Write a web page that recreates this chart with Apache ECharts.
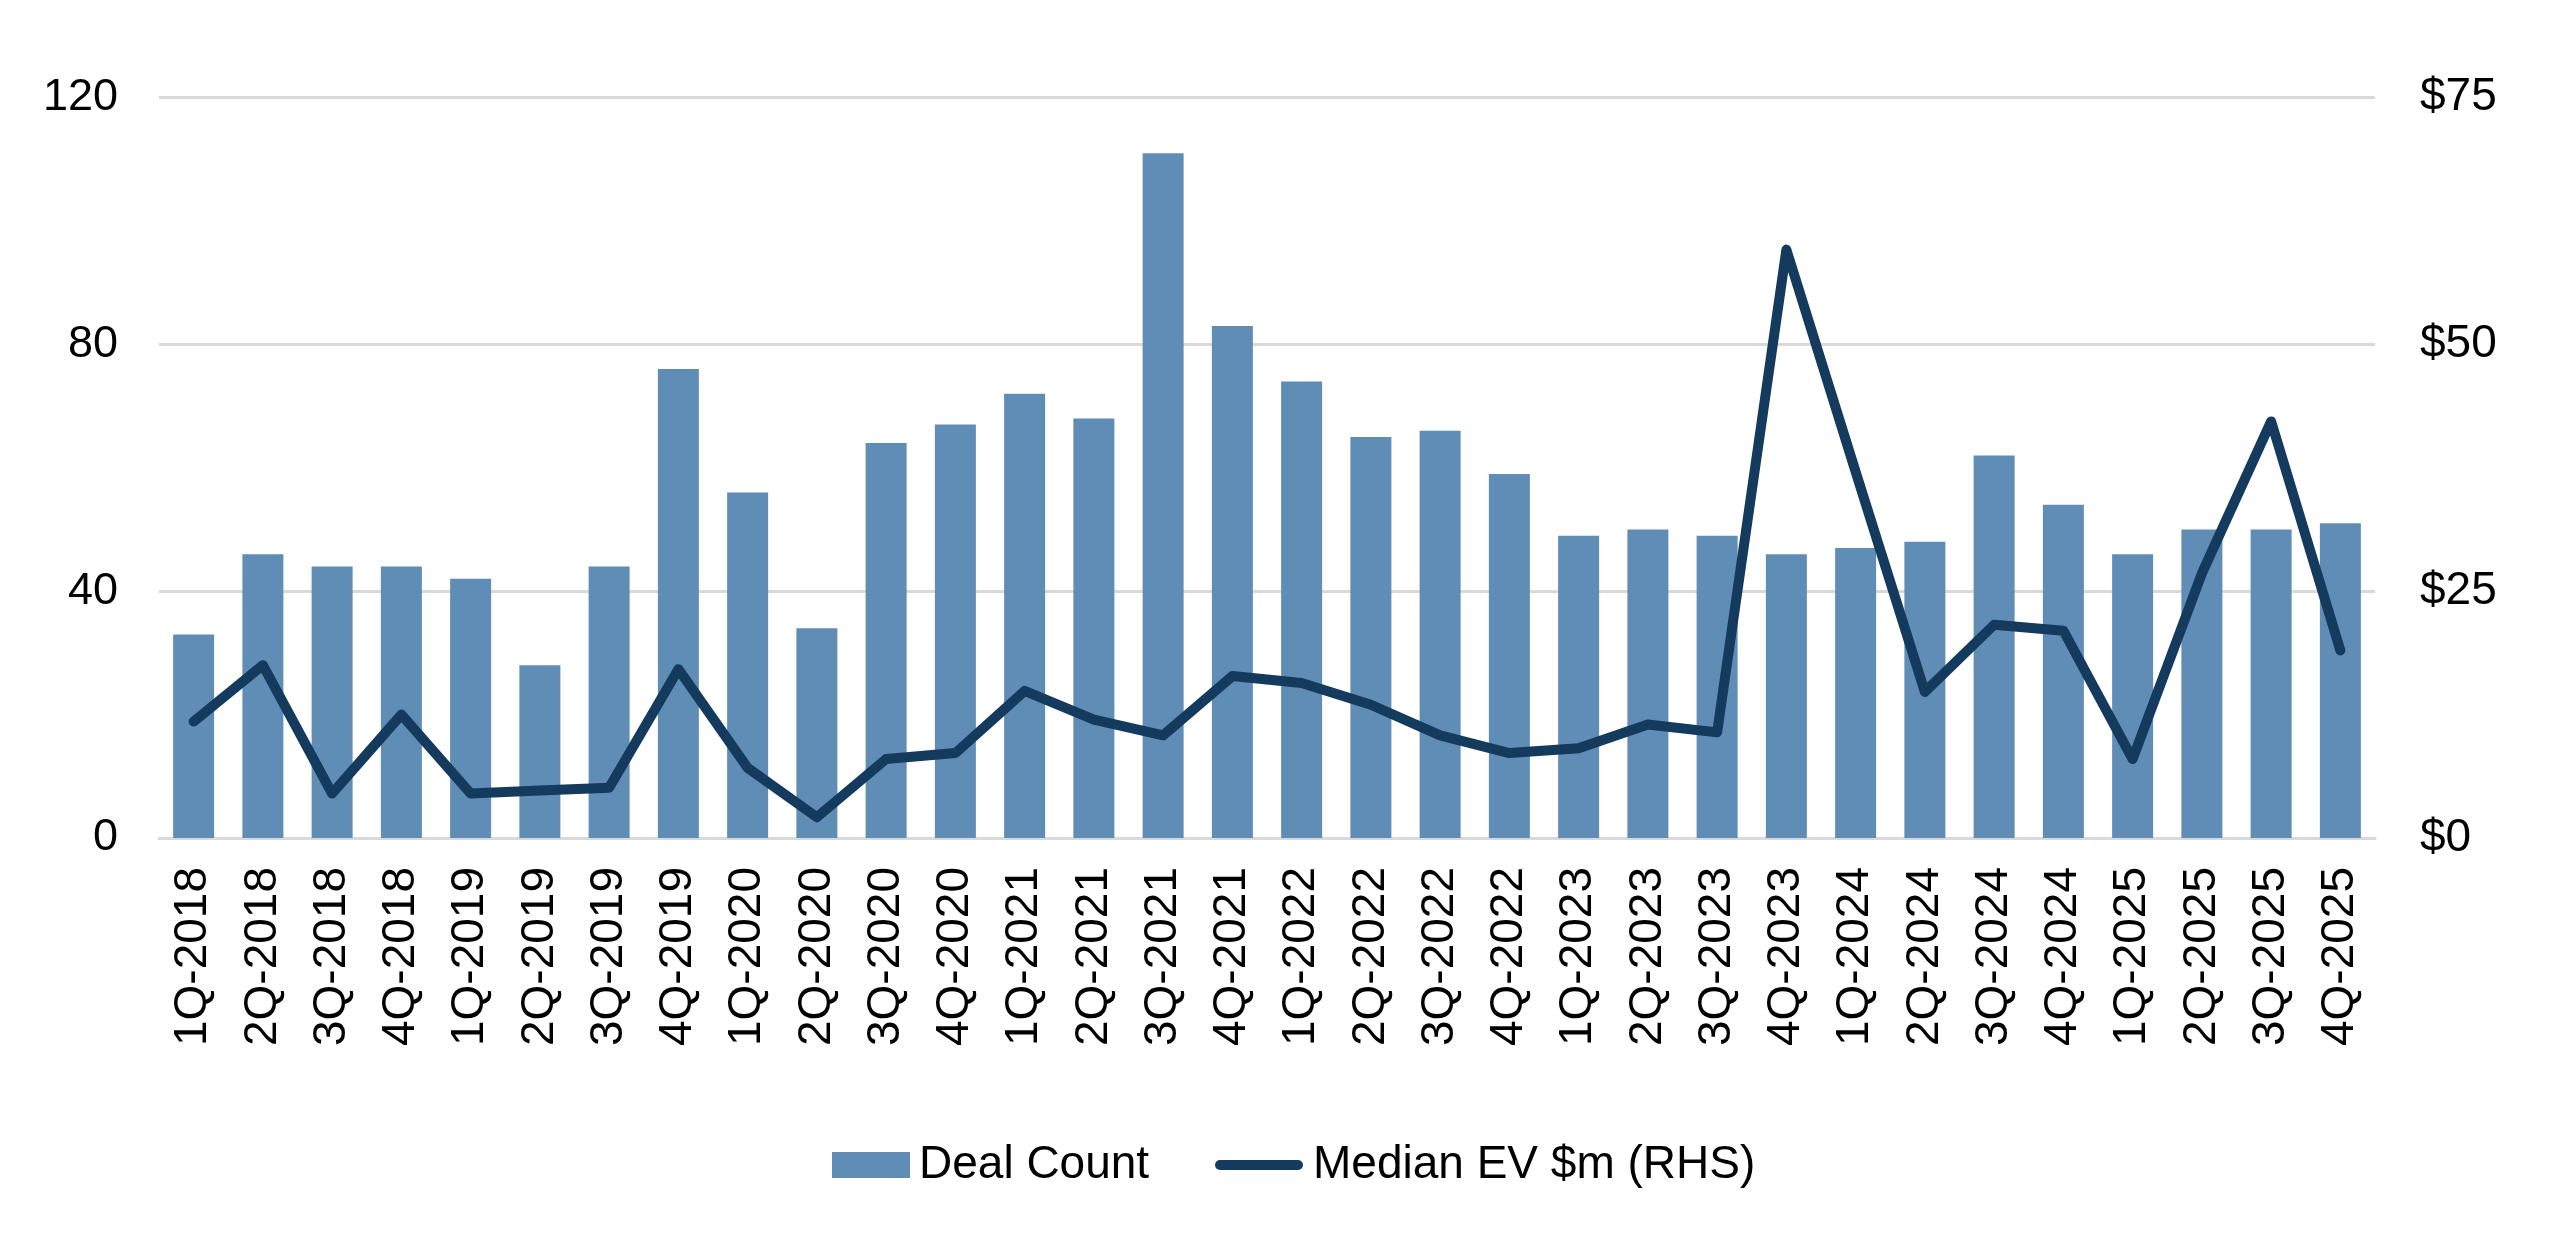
<!DOCTYPE html>
<html>
<head>
<meta charset="utf-8">
<script src="https://cdn.jsdelivr.net/npm/echarts@6/dist/echarts.min.js"></script>
<style>
html,body{margin:0;padding:0;background:#fff;}
#chart{width:2551px;height:1246px;}
</style>
</head>
<body>
<div id="chart"></div>
<script>
const categories = ['1Q-2018','2Q-2018','3Q-2018','4Q-2018','1Q-2019','2Q-2019','3Q-2019','4Q-2019',
  '1Q-2020','2Q-2020','3Q-2020','4Q-2020','1Q-2021','2Q-2021','3Q-2021','4Q-2021',
  '1Q-2022','2Q-2022','3Q-2022','4Q-2022','1Q-2023','2Q-2023','3Q-2023','4Q-2023',
  '1Q-2024','2Q-2024','3Q-2024','4Q-2024','1Q-2025','2Q-2025','3Q-2025','4Q-2025'];
const dealCount = [33,46,44,44,42,28,44,76,56,34,64,67,72,68,111,83,74,65,66,59,49,50,49,46,47,48,62,54,46,50,50,51];
const medianEV = [11.8,17.5,4.5,12.5,4.5,4.8,5.1,17.1,7.1,2.1,8.0,8.6,14.9,12.0,10.4,16.4,15.7,13.5,10.4,8.6,9.1,11.5,10.7,59.6,37.1,14.8,21.6,21.0,8.0,26.8,42.2,19.0];
const leftTicks = {min:0, max:120, interval:40};
const rightTicks = {min:0, max:75, interval:25};

const FONT = "'Liberation Sans', Arial, sans-serif";
const legendText = {fontSize:46, color:'#000', fontFamily:FONT, padding:[0,0,0,4]};
const chart = echarts.init(document.getElementById('chart'), null, {renderer:'canvas'});
chart.setOption({
  animation:false,
  backgroundColor:'#ffffff',
  textStyle:{fontFamily:FONT},
  grid:{left:159, right:176, top:97.6, bottom:408, containLabel:false},
  legend:[
    {
      left:827, top:1137, itemWidth:78, itemHeight:26,
      textStyle:legendText,
      data:[{name:'Deal Count', icon:'rect'}]
    },
    {
      left:1210, top:1137, itemWidth:90, itemHeight:10,
      textStyle:legendText,
      data:[{name:'Median EV $m (RHS)',
             icon:'path://M5,0 L83,0 A5,5 0 0 1 83,10 L5,10 A5,5 0 0 1 5,0 Z',
             itemStyle:{color:'#143A5E', borderWidth:0}}]
    }
  ],
  xAxis:{
    type:'category', data:categories, boundaryGap:true,
    axisLine:{show:true, lineStyle:{color:'#D9D9D9', width:3}},
    axisTick:{show:false},
    axisLabel:{rotate:90, fontSize:46, color:'#000', margin:29, interval:0, fontFamily:FONT}
  },
  yAxis:[
    {type:'value', min:leftTicks.min, max:leftTicks.max, interval:leftTicks.interval, position:'left',
     axisLine:{show:false}, axisTick:{show:false},
     axisLabel:{fontSize:45, color:'#000', margin:41, fontFamily:FONT},
     splitLine:{show:true, lineStyle:{color:'#D9D9D9', width:3}}},
    {type:'value', min:rightTicks.min, max:rightTicks.max, interval:rightTicks.interval, position:'right',
     axisLine:{show:false}, axisTick:{show:false},
     axisLabel:{fontSize:46, color:'#000', margin:45, fontFamily:FONT, formatter:'${value}'},
     splitLine:{show:false}}
  ],
  series:[
    {name:'Deal Count', type:'bar', data:dealCount, yAxisIndex:0, barWidth:41,
     itemStyle:{color:'#5F8DB5'}},
    {name:'Median EV $m (RHS)', type:'line', data:medianEV, yAxisIndex:1,
     showSymbol:false, symbol:'none',
     lineStyle:{color:'#143A5E', width:10, cap:'round', join:'round'},
     itemStyle:{color:'#143A5E'}}
  ]
});
</script>
</body>
</html>
